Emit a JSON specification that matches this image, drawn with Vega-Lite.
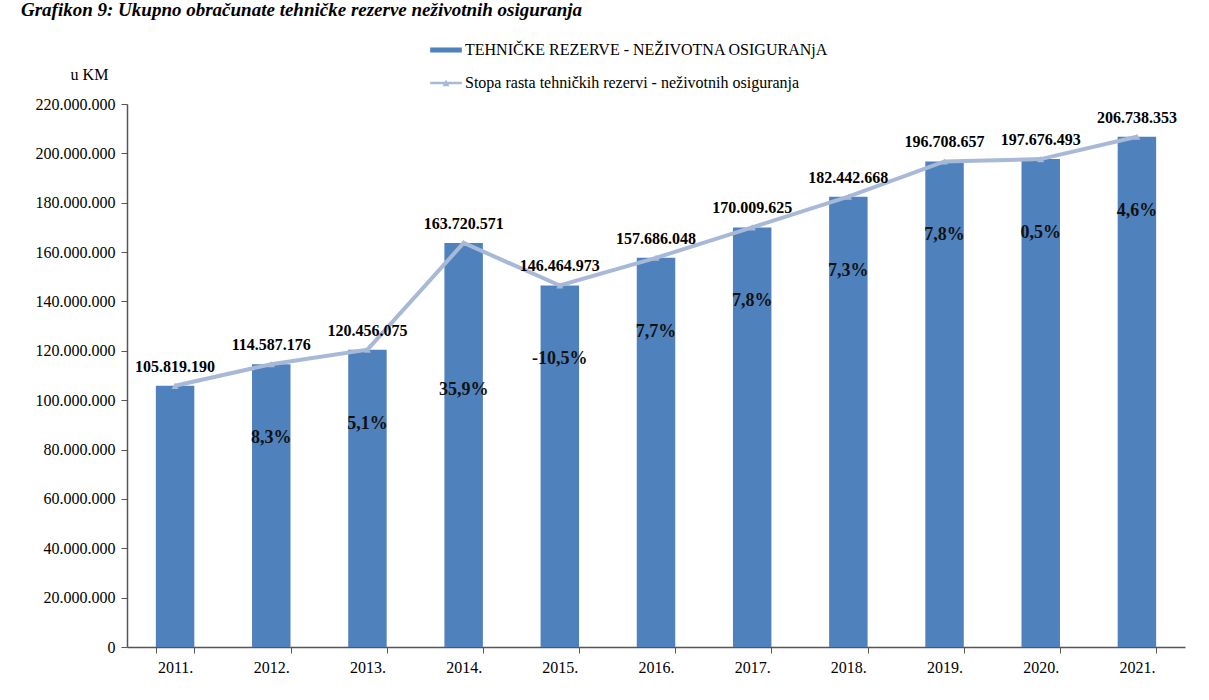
{
  "$schema": "https://vega.github.io/schema/vega-lite/v6.json",
  "width": 1058,
  "height": 543,
  "autosize": {"type": "none"},
  "padding": {"left": 127, "top": 104, "right": 24, "bottom": 53},
  "background": "white",
  "title": {
    "text": "Grafikon 9: Ukupno obračunate tehničke rezerve neživotnih osiguranja",
    "anchor": "start",
    "font": "Liberation Serif",
    "fontSize": 19,
    "fontStyle": "italic",
    "fontWeight": "bold",
    "color": "#000000",
    "dx": -14,
    "offset": 14
  },
  "config": {
    "locale": {"number": {"decimal": ",", "thousands": ".", "grouping": [3], "currency": ["", ""], "minus": "-"}},
    "view": {"stroke": null},
    "font": "Liberation Serif"
  },
  "data": {
    "values": [
      {"year": "2011.", "value": 105819190, "rate": null},
      {"year": "2012.", "value": 114587176, "rate": 0.083},
      {"year": "2013.", "value": 120456075, "rate": 0.051},
      {"year": "2014.", "value": 163720571, "rate": 0.359},
      {"year": "2015.", "value": 146464973, "rate": -0.105},
      {"year": "2016.", "value": 157686048, "rate": 0.077},
      {"year": "2017.", "value": 170009625, "rate": 0.078},
      {"year": "2018.", "value": 182442668, "rate": 0.073},
      {"year": "2019.", "value": 196708657, "rate": 0.078},
      {"year": "2020.", "value": 197676493, "rate": 0.005},
      {"year": "2021.", "value": 206738353, "rate": 0.046}
    ]
  },
  "encoding": {
    "x": {
      "field": "year", "type": "nominal", "sort": null,
      "scale": {"paddingInner": 0.6, "paddingOuter": 0.3},
      "axis": {
        "title": null, "labelAngle": 0, "labelFont": "Liberation Serif", "labelFontSize": 16,
        "labelColor": "#000000", "domainColor": "#555555", "tickColor": "#555555",
        "tickBand": "extent", "tickSize": 6, "labelPadding": 6, "domainWidth": 1.5
      }
    },
    "y": {
      "field": "value", "type": "quantitative",
      "scale": {"domain": [0, 220000000], "nice": false},
      "axis": {
        "values": [0, 20000000, 40000000, 60000000, 80000000, 100000000, 120000000, 140000000, 160000000, 180000000, 200000000, 220000000],
        "format": ",d", "grid": false,
        "labelFont": "Liberation Serif", "labelFontSize": 16, "labelColor": "#000000",
        "domainColor": "#555555", "tickColor": "#555555", "tickSize": 6, "labelPadding": 6, "domainWidth": 1.5,
        "title": "u KM", "titleAngle": 0, "titleX": -38, "titleY": -30, "titleAlign": "center",
        "titleBaseline": "middle", "titleFont": "Liberation Serif", "titleFontSize": 16,
        "titleFontWeight": "normal", "titleColor": "#000000"
      }
    }
  },
  "layer": [
    {
      "mark": {"type": "bar", "color": "#4F81BD"},
      "encoding": {
        "color": {
          "datum": "TEHNIČKE REZERVE - NEŽIVOTNA OSIGURANjA",
          "type": "nominal",
          "scale": {
            "domain": ["TEHNIČKE REZERVE - NEŽIVOTNA OSIGURANjA", "Stopa rasta tehničkih rezervi - neživotnih osiguranja"],
            "range": ["#4F81BD", "#A7B9D7"]
          },
          "legend": {
            "title": null, "orient": "none", "legendX": 303, "legendY": -70,
            "labelFont": "Liberation Serif", "labelFontSize": 16, "labelColor": "#000000",
            "symbolSize": 1000, "rowPadding": 9, "labelOffset": 3, "symbolStrokeWidth": 0,
            "labelLimit": 600,
            "encode": {
              "symbols": {
                "update": {
                  "shape": {"signal": "datum.value === 'TEHNIČKE REZERVE - NEŽIVOTNA OSIGURANjA' ? 'M-1,-0.16H1V0.16H-1Z' : 'M-1,-0.08H1V0.08H-1Z M-0.22,0.2L0,-0.22L0.22,0.2Z'"},
                  "strokeWidth": {"value": 0}
                }
              }
            }
          }
        }
      }
    },
    {
      "mark": {"type": "line", "color": "#A7B9D7", "strokeWidth": 4},
      "encoding": {
        "color": {"datum": "Stopa rasta tehničkih rezervi - neživotnih osiguranja", "type": "nominal"}
      }
    },
    {
      "mark": {"type": "point", "shape": "triangle-up", "filled": true, "size": 50, "color": "#A7B9D7", "opacity": 1},
      "encoding": {}
    },
    {
      "mark": {"type": "text", "dy": -19, "font": "Liberation Serif", "fontSize": 16, "fontWeight": "bold", "color": "#000000"},
      "encoding": {"text": {"field": "value", "type": "quantitative", "format": ",d"}}
    },
    {
      "transform": [{"filter": "datum.rate != null && datum.year != '2014.'"}],
      "mark": {"type": "text", "dy": 74, "font": "Liberation Serif", "fontSize": 18, "fontWeight": "bold", "color": "#111111"},
      "encoding": {"text": {"field": "rate", "type": "quantitative", "format": ".1%"}}
    },
    {
      "transform": [{"filter": "datum.year == '2014.'"}],
      "mark": {"type": "text", "dy": 147, "font": "Liberation Serif", "fontSize": 18, "fontWeight": "bold", "color": "#111111"},
      "encoding": {"text": {"field": "rate", "type": "quantitative", "format": ".1%"}}
    }
  ]
}
